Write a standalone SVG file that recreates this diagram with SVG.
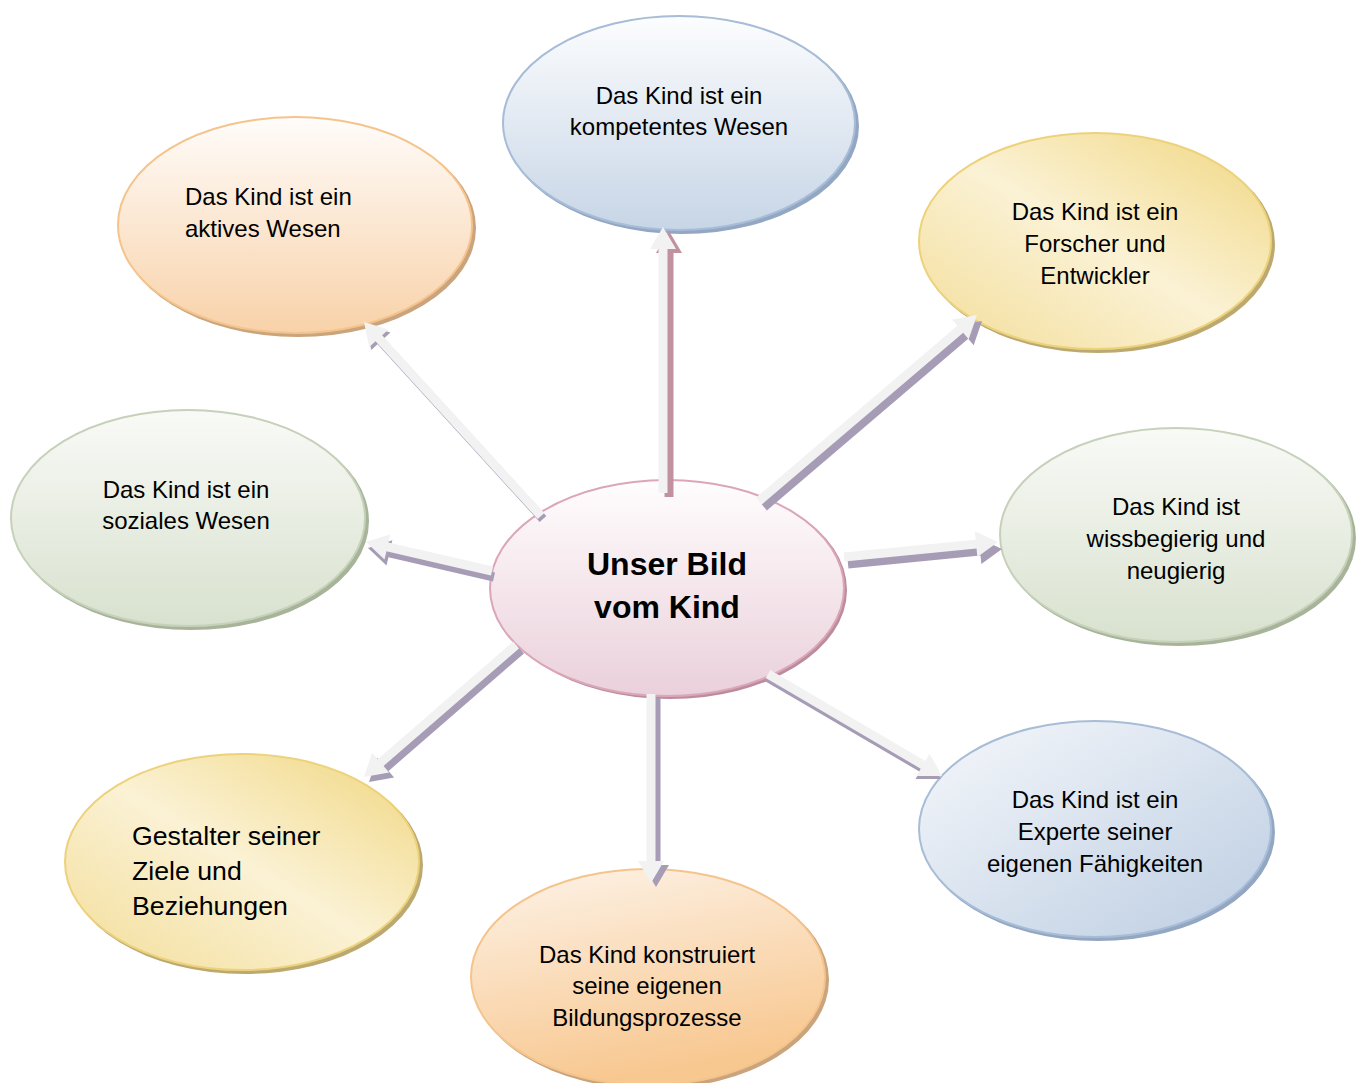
<svg xmlns="http://www.w3.org/2000/svg" width="1362" height="1083" viewBox="0 0 1362 1083">
<defs>
<linearGradient id="gBlue" x1="0" y1="0" x2="0" y2="1"><stop offset="0" stop-color="#fcfdfe"/><stop offset="1" stop-color="#c7d5e6"/></linearGradient>
<linearGradient id="gBlue2" x1="0" y1="0" x2="1" y2="1"><stop offset="0" stop-color="#f6f8fb"/><stop offset="1" stop-color="#bccde2"/></linearGradient>
<linearGradient id="gOrange" x1="0" y1="0" x2="0" y2="1"><stop offset="0" stop-color="#fffcfa"/><stop offset="1" stop-color="#f8d2a9"/></linearGradient>
<linearGradient id="gOrange2" x1="0" y1="0" x2="0.3" y2="1"><stop offset="0" stop-color="#fdf3e8"/><stop offset="1" stop-color="#f8c891"/></linearGradient>
<linearGradient id="gYellow" x1="1" y1="0" x2="0" y2="1"><stop offset="0" stop-color="#f0d67f"/><stop offset="0.5" stop-color="#fbf2d5"/><stop offset="1" stop-color="#f3dd98"/></linearGradient>
<linearGradient id="gGreen" x1="0" y1="0" x2="0" y2="1"><stop offset="0" stop-color="#f9faf7"/><stop offset="1" stop-color="#d8e1ce"/></linearGradient>
<linearGradient id="gPink" x1="0" y1="0" x2="0" y2="1"><stop offset="0" stop-color="#fffdfe"/><stop offset="1" stop-color="#ead0da"/></linearGradient>
</defs>
<style>
.t{font-family:"Liberation Sans",Arial,sans-serif;font-size:24px;fill:#000}
.c{text-anchor:middle}
.big{font-size:26.7px}
.title{font-family:"Liberation Sans",Arial,sans-serif;font-size:32px;font-weight:bold;text-anchor:middle;fill:#000}
.sb{fill:#93a7c2}.so{fill:#c9a47d}.sy{fill:#bba970}.sg{fill:#a7b49a}.sp{fill:#bb8c9d}
.light{fill:#f2f2f2}
.shadow{fill:#a69cb6}
.shadowR{fill:#c2919f}
</style>
<rect width="1362" height="1083" fill="#ffffff"/>

<g id="node-center">
<ellipse cx="670" cy="590" rx="177" ry="109" class="sp"/>
<ellipse cx="667" cy="588" rx="177" ry="108" fill="url(#gPink)" stroke="#dba6b7" stroke-width="2"/>
<text class="title" x="667" y="575">Unser Bild</text>
<text class="title" x="667" y="618">vom Kind</text>
</g>

<g id="node-kompetent">
<ellipse cx="682" cy="126" rx="177" ry="108" class="sb"/>
<ellipse cx="679" cy="123" rx="176" ry="107" fill="url(#gBlue)" stroke="#a7bcd7" stroke-width="2"/>
<text class="t c" x="679" y="104">Das Kind ist ein</text>
<text class="t c" x="679" y="135">kompetentes Wesen</text>
</g>

<g id="node-aktiv">
<ellipse cx="298" cy="228" rx="178" ry="109" class="so"/>
<ellipse cx="295" cy="225" rx="177" ry="108" fill="url(#gOrange)" stroke="#f5c48c" stroke-width="2"/>
<text class="t" x="185" y="205">Das Kind ist ein</text>
<text class="t" x="185" y="237">aktives Wesen</text>
</g>

<g id="node-forscher">
<ellipse cx="1098" cy="244" rx="177" ry="109" class="sy"/>
<ellipse cx="1095" cy="241" rx="176" ry="108" fill="url(#gYellow)" stroke="#edd27c" stroke-width="2"/>
<text class="t c" x="1095" y="220">Das Kind ist ein</text>
<text class="t c" x="1095" y="252">Forscher und</text>
<text class="t c" x="1095" y="284">Entwickler</text>
</g>

<g id="node-sozial">
<ellipse cx="191" cy="521" rx="178" ry="109" class="sg"/>
<ellipse cx="188" cy="518" rx="177" ry="108" fill="url(#gGreen)" stroke="#c6d1ba" stroke-width="2"/>
<text class="t c" x="186" y="498">Das Kind ist ein</text>
<text class="t c" x="186" y="529">soziales Wesen</text>
</g>

<g id="node-wissbegierig">
<ellipse cx="1179" cy="538" rx="177" ry="108" class="sg"/>
<ellipse cx="1176" cy="535" rx="176" ry="107" fill="url(#gGreen)" stroke="#c6d1ba" stroke-width="2"/>
<text class="t c" x="1176" y="515">Das Kind ist</text>
<text class="t c" x="1176" y="547">wissbegierig und</text>
<text class="t c" x="1176" y="579">neugierig</text>
</g>

<g id="node-gestalter">
<ellipse cx="245" cy="865" rx="178" ry="109" class="sy"/>
<ellipse cx="242" cy="862" rx="177" ry="108" fill="url(#gYellow)" stroke="#edd27c" stroke-width="2"/>
<text class="t big" x="132" y="845">Gestalter seiner</text>
<text class="t big" x="132" y="880">Ziele und</text>
<text class="t big" x="132" y="915">Beziehungen</text>
</g>

<g id="node-konstruiert">
<ellipse cx="651" cy="980" rx="178" ry="109" class="so"/>
<ellipse cx="648" cy="977" rx="177" ry="108" fill="url(#gOrange2)" stroke="#f5c48c" stroke-width="2"/>
<text class="t c" x="647" y="963">Das Kind konstruiert</text>
<text class="t c" x="647" y="994">seine eigenen</text>
<text class="t c" x="647" y="1026">Bildungsprozesse</text>
</g>

<g id="node-experte">
<ellipse cx="1098" cy="832" rx="177" ry="109" class="sb"/>
<ellipse cx="1095" cy="829" rx="176" ry="108" fill="url(#gBlue2)" stroke="#a7bcd7" stroke-width="2"/>
<text class="t c" x="1095" y="808">Das Kind ist ein</text>
<text class="t c" x="1095" y="840">Experte seiner</text>
<text class="t c" x="1095" y="872">eigenen Fähigkeiten</text>
</g>

<g id="connectors">
<!-- N -->
<polygon class="shadowR" transform="translate(6,4)" points="658.5,493 658.5,249 650,249 663,227 676,249 667.5,249 667.5,493"/>
<polygon class="light" points="658.5,493 658.5,249 650,249 663,227 676,249 667.5,249 667.5,493"/>
<!-- NE -->
<polygon class="shadow" transform="translate(5,6)" points="756.08,497.58 957.34,325.86 951.82,319.39 977,315 968.70,339.17 963.18,332.70 761.92,504.42"/>
<polygon class="light" points="756.08,497.58 957.34,325.86 951.82,319.39 977,315 968.70,339.17 963.18,332.70 761.92,504.42"/>
<!-- NW -->
<polygon class="shadow" transform="translate(2,3)" points="537.68,519.03 375.51,341.28 369.23,347.01 364,322 388.43,329.49 382.15,335.22 544.32,512.97"/>
<polygon class="light" points="537.68,519.03 375.51,341.28 369.23,347.01 364,322 388.43,329.49 382.15,335.22 544.32,512.97"/>
<!-- W -->
<polygon class="shadow" transform="translate(2,6)" points="490.99,575.39 386.43,551.32 384.52,559.60 366,542 390.36,534.26 388.45,542.54 493.01,566.61"/>
<polygon class="light" points="490.99,575.39 386.43,551.32 384.52,559.60 366,542 390.36,534.26 388.45,542.54 493.01,566.61"/>
<!-- E -->
<polygon class="shadow" transform="translate(4,7)" points="843.56,552.52 975.66,539.65 974.84,531.19 998,542 977.36,557.07 976.54,548.61 844.44,561.48"/>
<polygon class="light" points="843.56,552.52 975.66,539.65 974.84,531.19 998,542 977.36,557.07 976.54,548.61 844.44,561.48"/>
<!-- SW -->
<polygon class="shadow" transform="translate(5,5)" points="518.95,648.40 383.56,765.97 389.13,772.39 364,777 372.09,752.75 377.66,759.17 513.05,641.60"/>
<polygon class="light" points="518.95,648.40 383.56,765.97 389.13,772.39 364,777 372.09,752.75 377.66,759.17 513.05,641.60"/>
<!-- S -->
<polygon class="shadow" transform="translate(5,4)" points="646.5,694 646.5,861 638,861 651,883 664,861 655.5,861 655.5,694"/>
<polygon class="light" points="646.5,694 646.5,861 638,861 651,883 664,861 655.5,861 655.5,694"/>
<!-- SE -->
<polygon class="shadow" transform="translate(-1,3)" points="770.28,670.12 925.30,760.99 929.59,753.65 942,776 916.45,776.09 920.74,768.75 765.72,677.88"/>
<polygon class="light" points="770.28,670.12 925.30,760.99 929.59,753.65 942,776 916.45,776.09 920.74,768.75 765.72,677.88"/>
</g>
</svg>
